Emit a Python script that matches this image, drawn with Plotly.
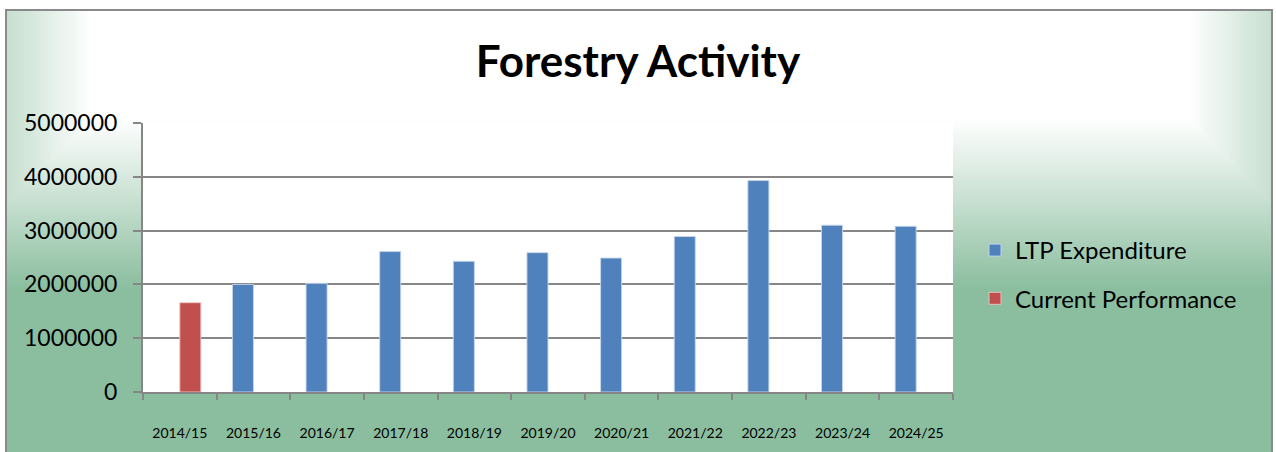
import plotly.graph_objects as go

categories = ["2014/15", "2015/16", "2016/17", "2017/18", "2018/19", "2019/20",
              "2020/21", "2021/22", "2022/23", "2023/24", "2024/25"]
ltp_expenditure = [None, 2000000, 2020000, 2610000, 2430000, 2590000,
                   2490000, 2890000, 3930000, 3100000, 3080000]
current_performance = [1660000, None, None, None, None, None,
                       None, None, None, None, None]
y_ticks = [0, 1000000, 2000000, 3000000, 4000000, 5000000]

W, H = 1276, 452
L, R, T, B = 143, 323, 123, 60
PW, PH = W - L - R, H - T - B


def px(x):
    return (x - L) / PW


def py(y):
    return (H - B - y) / PH


GREEN = (139, 190, 159)
WHITE = (255, 255, 255)


def mix(t):
    c = [round(g + (w - g) * t) for g, w in zip(GREEN, WHITE)]
    return "rgb(%d,%d,%d)" % tuple(c)


shapes = []
# full green frame
shapes.append(dict(type="rect", xref="paper", yref="paper", layer="below",
                   x0=px(6), x1=px(1272), y0=py(10), y1=py(H + 5),
                   fillcolor=mix(0), line=dict(width=0)))
N = 60
for i in range(1, N + 1):
    t = i / N
    x0 = max(6, -80 + 170 * t)
    x1 = min(1272, 1360 - 170 * t)
    yb = min(H + 5, 290 - 170 * t)
    shapes.append(dict(type="rect", xref="paper", yref="paper", layer="below",
                       x0=px(x0), x1=px(x1), y0=py(10), y1=py(yb),
                       fillcolor=mix(t), line=dict(width=0)))
# plot area white
shapes.append(dict(type="rect", xref="paper", yref="paper", layer="below",
                   x0=0, x1=1, y0=0, y1=1, fillcolor="white", line=dict(width=0)))
# outer frame
shapes.append(dict(type="rect", xref="paper", yref="paper", layer="below",
                   x0=px(6), x1=px(1272), y0=py(10), y1=py(H + 10),
                   fillcolor="rgba(0,0,0,0)", line=dict(color="#8a8a8a", width=2)))

FONT = "Lato"

fig = go.Figure()
fig.add_trace(go.Bar(name="LTP Expenditure", x=categories, y=ltp_expenditure,
                     marker=dict(color="#4F81BD", line=dict(color="rgba(200,215,235,0.9)", width=1)),
                     legendgroup="a"))
fig.add_trace(go.Bar(name="Current Performance", x=categories, y=current_performance,
                     marker=dict(color="#C0504D", line=dict(color="rgba(235,200,200,0.9)", width=1)),
                     legendgroup="b"))

fig.update_layout(
    width=W, height=H,
    margin=dict(l=L, r=R, t=T, b=B, pad=0, autoexpand=False),
    paper_bgcolor="white",
    plot_bgcolor="white",
    barmode="group",
    bargap=1.5 / 3.5,
    bargroupgap=0,
    shapes=shapes,
    font=dict(family=FONT, color="black"),
    title=dict(text="<b>Forestry Activity</b>", x=0.5, xref="container", xanchor="center",
               y=1 - 62 / H, yref="container", yanchor="middle",
               font=dict(family=FONT, size=44, color="black")),
    legend=dict(x=px(975), xanchor="left", y=py(228), yanchor="top",
                bgcolor="rgba(0,0,0,0)", font=dict(family=FONT, size=24, color="black"),
                tracegroupgap=14, traceorder="grouped"),
    showlegend=True,
)
fig.update_xaxes(type="category", showgrid=False, showline=True, linecolor="#868686", linewidth=2,
                 ticks="outside", tickson="boundaries", ticklen=6, tickcolor="#868686", tickwidth=2,
                 tickfont=dict(family=FONT, size=14, color="black"), ticklabelstandoff=27,
                 automargin=False, fixedrange=True)
fig.update_yaxes(range=[0, 5000000], tickvals=y_ticks, ticktext=[str(v) for v in y_ticks],
                 showgrid=True, gridcolor="#868686", gridwidth=2, zeroline=False,
                 showline=True, linecolor="#868686", linewidth=2,
                 ticks="outside", ticklen=8, tickcolor="#868686", tickwidth=2,
                 tickfont=dict(family=FONT, size=23, color="black"), ticklabelstandoff=11,
                 automargin=False, fixedrange=True)

fig.write_html("out.html")
